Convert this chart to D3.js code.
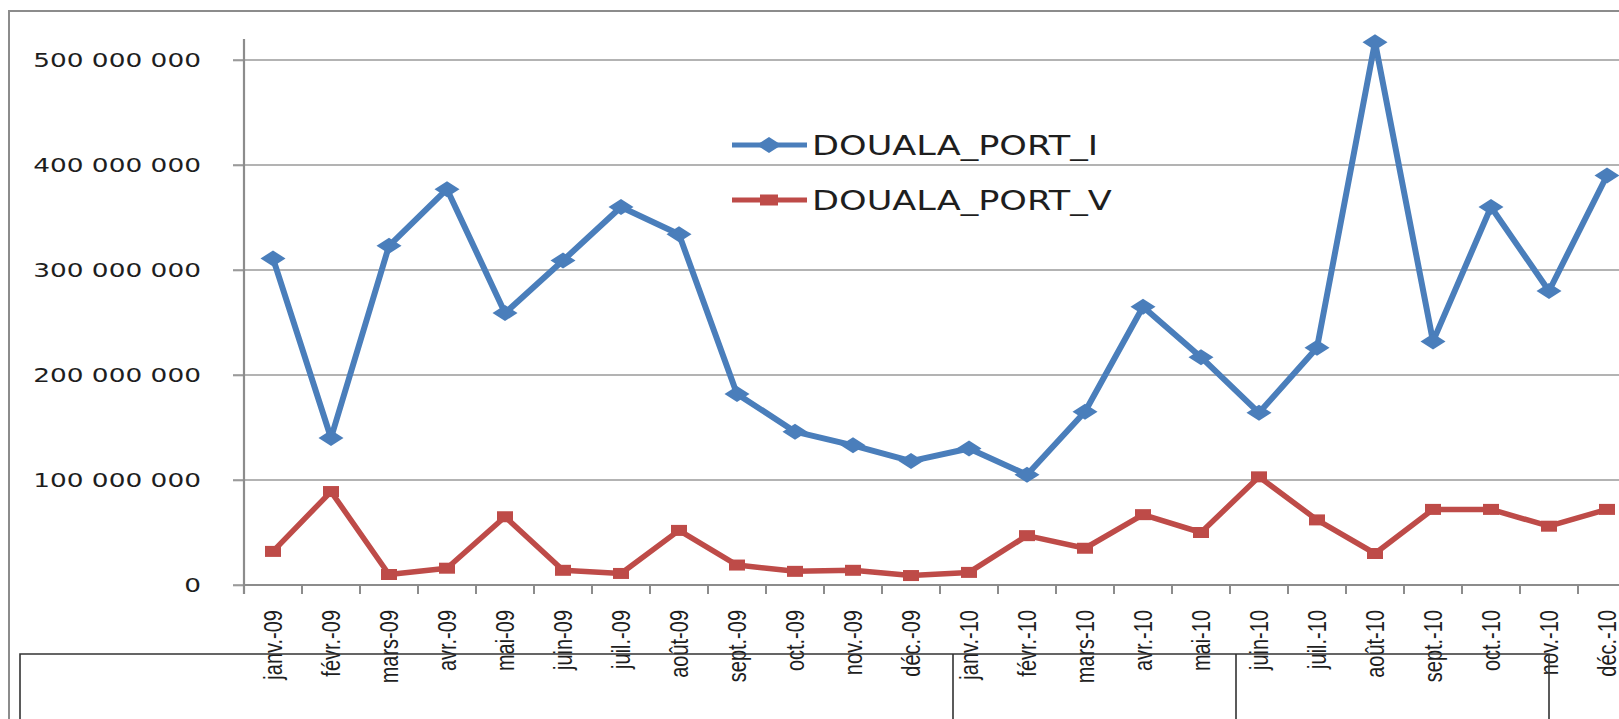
<!DOCTYPE html>
<html>
<head>
<meta charset="utf-8">
<script src="https://cdn.jsdelivr.net/npm/d3@7"></script>
<style>
  body { margin: 0; background: #fff; }
  svg { display: block; }
</style>
</head>
<body>
<script>
var months = ["janv.-09", "févr.-09", "mars-09", "avr.-09", "mai-09", "juin-09",
              "juil.-09", "août-09", "sept.-09", "oct.-09", "nov.-09", "déc.-09",
              "janv.-10", "févr.-10", "mars-10", "avr.-10", "mai-10", "juin-10",
              "juil.-10", "août-10", "sept.-10", "oct.-10", "nov.-10", "déc.-10"];

var portI = [311e6, 140e6, 323e6, 377e6, 259e6, 309e6, 360e6, 334e6, 182e6, 146e6, 133e6, 118e6,
             130e6, 105e6, 165e6, 265e6, 217e6, 164e6, 226e6, 517e6, 232e6, 360e6, 280e6, 390e6];

var portV = [32e6, 89e6, 10e6, 16e6, 65e6, 14e6, 11e6, 52e6, 19e6, 13e6, 14e6, 9e6,
             12e6, 47e6, 35e6, 67e6, 50e6, 103e6, 62e6, 30e6, 72e6, 72e6, 56e6, 72e6];

var yTicks = [0, 100e6, 200e6, 300e6, 400e6, 500e6];

var seriesNames = ["DOUALA_PORT_I", "DOUALA_PORT_V"];
var blue = "#4a7ebb", red = "#be4b48";

// the picture is stretched horizontally, text gets the same stretch
var sx = 1.32;

var svg = d3.select("body").append("svg")
    .attr("width", 1619)
    .attr("height", 719);

var x = d3.scaleBand()
    .domain(months)
    .range([244, 244 + months.length * 58]);

var y = d3.scaleLinear()
    .domain([0, 520e6])
    .range([585, 39]);

var fr = d3.formatLocale({decimal: ",", thousands: " ", grouping: [3], currency: ["", ""]});
var fmt = fr.format(",");

// outer frame
svg.append("path")
    .attr("d", "M9,719V11H1619")
    .attr("fill", "none")
    .attr("stroke", "#8c8c8c")
    .attr("stroke-width", 2);

/********** Grid + axes **********/
svg.append("g")
    .selectAll("line")
    .data(yTicks)
    .enter().append("line")
    .attr("x1", 233)
    .attr("x2", 1619)
    .attr("y1", function(d) { return y(d); })
    .attr("y2", function(d) { return y(d); })
    .attr("stroke", "#9a9a9a")
    .attr("stroke-width", 1.6);

var yAxis = svg.append("g")
    .attr("transform", "translate(244,0)")
    .call(d3.axisLeft(y).tickValues(yTicks).tickSize(11).tickFormat(fmt));

yAxis.select(".domain").remove();
yAxis.selectAll(".tick line").attr("stroke", "#9a9a9a").attr("stroke-width", 1.6);
yAxis.selectAll("text")
    .attr("x", 0)
    .attr("transform", "translate(-43,0) scale(" + sx + ",1)")
    .attr("font-family", "DejaVu Sans")
    .attr("font-size", 20)
    .attr("fill", "#1e1e1e");

svg.append("line")
    .attr("x1", 244).attr("x2", 244)
    .attr("y1", 39).attr("y2", 594)
    .attr("stroke", "#8c8c8c")
    .attr("stroke-width", 2.2);

var xAxis = svg.append("g")
    .attr("transform", "translate(0,585)")
    .call(d3.axisBottom(x).tickSize(0).tickPadding(0));

xAxis.select(".domain").remove();
xAxis.selectAll("text")
    .attr("y", null)
    .attr("dy", "0.35em")
    .attr("text-anchor", "end")
    .attr("transform", "translate(0,25) scale(" + sx + ",1) rotate(-90)")
    .attr("font-family", "Liberation Sans")
    .attr("font-size", 20)
    .attr("fill", "#1e1e1e");

svg.append("line")
    .attr("x1", 244).attr("x2", 1619)
    .attr("y1", 585).attr("y2", 585)
    .attr("stroke", "#8c8c8c")
    .attr("stroke-width", 1.8);

svg.append("g")
    .selectAll("line")
    .data(months.map(function(m) { return x(m); }).concat([x.range()[1]]))
    .enter().append("line")
    .attr("x1", function(d) { return d; })
    .attr("x2", function(d) { return d; })
    .attr("y1", 585)
    .attr("y2", 594)
    .attr("stroke", "#8c8c8c")
    .attr("stroke-width", 2);

/********** Series **********/
function cx(i) { return x(months[i]) + x.bandwidth() / 2; }

var line = d3.line()
    .x(function(d, i) { return cx(i); })
    .y(function(d) { return y(d); });

var diamond = "M0,-8L12.5,0L0,8L-12.5,0Z";

svg.append("path")
    .datum(portV)
    .attr("d", line)
    .attr("fill", "none")
    .attr("stroke", red)
    .attr("stroke-width", 5.5)
    .attr("stroke-linejoin", "round");

svg.append("g")
    .selectAll("rect")
    .data(portV)
    .enter().append("rect")
    .attr("x", function(d, i) { return cx(i) - 8; })
    .attr("y", function(d) { return y(d) - 5.5; })
    .attr("width", 16)
    .attr("height", 11)
    .attr("fill", red);

svg.append("path")
    .datum(portI)
    .attr("d", line)
    .attr("fill", "none")
    .attr("stroke", blue)
    .attr("stroke-width", 6)
    .attr("stroke-linejoin", "round");

svg.append("g")
    .selectAll("path")
    .data(portI)
    .enter().append("path")
    .attr("d", diamond)
    .attr("transform", function(d, i) { return "translate(" + cx(i) + "," + y(d) + ")"; })
    .attr("fill", blue);

/********** Legend **********/
var legend = svg.append("g");
var legY = [145, 200];

legend.selectAll("line")
    .data(seriesNames)
    .enter().append("line")
    .attr("x1", 732).attr("x2", 807)
    .attr("y1", function(d, i) { return legY[i]; })
    .attr("y2", function(d, i) { return legY[i]; })
    .attr("stroke", function(d, i) { return i ? red : blue; })
    .attr("stroke-width", 5);

legend.append("path")
    .attr("d", diamond)
    .attr("transform", "translate(769," + legY[0] + ")")
    .attr("fill", blue);

legend.append("rect")
    .attr("x", 760).attr("y", legY[1] - 5.5)
    .attr("width", 18).attr("height", 11)
    .attr("fill", red);

legend.selectAll("text")
    .data(seriesNames)
    .enter().append("text")
    .attr("transform", function(d, i) { return "translate(812," + (legY[i] + 10) + ") scale(1.3,1)"; })
    .attr("font-family", "DejaVu Sans")
    .attr("font-size", 27)
    .attr("fill", "#1e1e1e")
    .text(function(d) { return d; });

/********** table below the chart **********/
svg.append("path")
    .attr("d", "M20,719V654H1549V719M953,654V719M1236,654V719")
    .attr("fill", "none")
    .attr("stroke", "#333")
    .attr("stroke-width", 1.6);
</script>
</body>
</html>
